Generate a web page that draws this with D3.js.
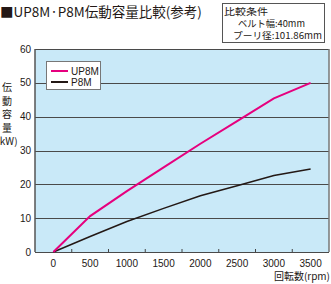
<!DOCTYPE html>
<html>
<head>
<meta charset="utf-8">
<script src="https://cdn.jsdelivr.net/npm/d3@7"></script>
<style>
  body { margin: 0; background: #fff; }
  text { font-family: "Liberation Sans", Arial, sans-serif; }
  .jp { font-family: "Noto Sans CJK JP", sans-serif; }
</style>
</head>
<body>
<div id="chart"></div>
<script>
// data
const rpm = [0, 500, 1000, 1500, 2000, 2500, 3000, 3500];
const up8m = [0, 10.6, 18, 25, 32, 38.7, 45.4, 50];
const p8m = [0, 4.6, 9, 12.9, 16.6, 19.6, 22.6, 24.5];
const yTicks = [0, 10, 20, 30, 40, 50, 60];
const xTicks = [0, 500, 1000, 1500, 2000, 2500, 3000, 3500];
const minorTicks = [250, 750, 1250, 1750, 2250, 2750, 3250];
const seriesNames = ["UP8M", "P8M"];
const colors = ["#e6007e", "#231815"];

const width = 331, height = 284;
const plot = { left: 35, right: 329, top: 49, bottom: 252 };

const svg = d3.select("#chart")
  .append("svg")
  .attr("width", width)
  .attr("height", height);

const x = d3.scaleLinear().domain([-250, 3750]).range([plot.left, plot.right]);
const y = d3.scaleLinear().domain([0, 60]).range([plot.bottom, plot.top]);

// title
svg.append("text")
  .attr("class", "jp")
  .attr("x", 0).attr("y", 17)
  .style("font-size", "13.5px")
  .attr("fill", "#231815")
  .text("■UP8M·P8M伝動容量比較(参考)");

// condition box
svg.append("rect")
  .attr("x", 222.5).attr("y", 3.5)
  .attr("width", 102).attr("height", 39)
  .attr("fill", "#fff").attr("stroke", "#555");
const cond = [
  { t: "比較条件", x: 224, y: 15, w: 44 },
  { t: "ベルト幅:40mm", x: 238, y: 27, w: 67 },
  { t: "プーリ径:101.86mm", x: 233, y: 39, w: 89 }
];
svg.selectAll("text.cond")
  .data(cond)
  .enter()
  .append("text")
  .attr("class", "jp cond")
  .attr("x", d => d.x).attr("y", d => d.y)
  .attr("textLength", d => d.w)
  .attr("lengthAdjust", "spacingAndGlyphs")
  .style("font-size", "9.5px")
  .attr("fill", "#231815")
  .text(d => d.t);

// plot background
svg.append("rect")
  .attr("x", plot.left).attr("y", plot.top)
  .attr("width", plot.right - plot.left)
  .attr("height", plot.bottom - plot.top)
  .attr("fill", "#c9e9f8");

// gridlines
svg.selectAll("line.grid")
  .data(yTicks)
  .enter()
  .append("line")
  .attr("x1", plot.left).attr("x2", plot.right)
  .attr("y1", d => Math.round(y(d)) + 0.5)
  .attr("y2", d => Math.round(y(d)) + 0.5)
  .attr("stroke", "#4a4a4a")
  .attr("stroke-width", 1.2);

// frame sides
svg.append("line")
  .attr("x1", plot.left).attr("x2", plot.left)
  .attr("y1", plot.top).attr("y2", plot.bottom)
  .attr("stroke", "#555").attr("stroke-width", 1.5);
svg.append("line")
  .attr("x1", plot.right).attr("x2", plot.right)
  .attr("y1", plot.top).attr("y2", plot.bottom)
  .attr("stroke", "#777").attr("stroke-width", 1.5);

// minor ticks on bottom axis
svg.selectAll("line.tick")
  .data(minorTicks)
  .enter()
  .append("line")
  .attr("x1", d => x(d)).attr("x2", d => x(d))
  .attr("y1", plot.bottom).attr("y2", plot.bottom - 3)
  .attr("stroke", "#444");

// y tick labels
svg.selectAll("text.ylab")
  .data(yTicks)
  .enter()
  .append("text")
  .attr("x", 31)
  .attr("y", d => y(d) + 3.5)
  .attr("text-anchor", "end")
  .style("font-size", "10px")
  .attr("fill", "#231815")
  .text(d => d);

// x tick labels
svg.selectAll("text.xlab")
  .data(xTicks)
  .enter()
  .append("text")
  .attr("x", d => x(d))
  .attr("y", 267)
  .attr("text-anchor", "middle")
  .style("font-size", "10px")
  .attr("fill", "#231815")
  .text(d => d);

// axis titles
svg.append("text")
  .attr("class", "jp")
  .attr("x", 330).attr("y", 280)
  .attr("text-anchor", "end")
  .style("font-size", "10px")
  .attr("fill", "#231815")
  .text("回転数(rpm)");

const yTitle = ["伝", "動", "容", "量", "(kW)"];
svg.selectAll("text.ytitle")
  .data(yTitle)
  .enter()
  .append("text")
  .attr("class", "jp")
  .attr("x", 7)
  .attr("y", (d, i) => 91 + i * 13.5)
  .attr("text-anchor", "middle")
  .style("font-size", "10px")
  .attr("fill", "#231815")
  .text(d => d);

// series lines
const line = d3.line()
  .x((d, i) => x(rpm[i]))
  .y(d => y(d));

[p8m, up8m].forEach((vals, k) => {
  svg.append("path")
    .datum(vals)
    .attr("fill", "none")
    .attr("stroke", k === 1 ? colors[0] : colors[1])
    .attr("stroke-width", k === 1 ? 2 : 1.5)
    .attr("d", line);
});

// legend
const lg = svg.append("g").attr("transform", "translate(46,61)");
lg.append("rect")
  .attr("x", 0.5).attr("y", 0.5)
  .attr("width", 54).attr("height", 28)
  .attr("fill", "#fff").attr("stroke", "#777");
seriesNames.forEach((name, i) => {
  lg.append("line")
    .attr("x1", 5).attr("x2", 22)
    .attr("y1", 10 + i * 11).attr("y2", 10 + i * 11)
    .attr("stroke", colors[i]).attr("stroke-width", 2);
  lg.append("text")
    .attr("x", 25).attr("y", 13.5 + i * 11)
    .style("font-size", "10px")
    .attr("fill", "#231815")
    .text(name);
});
</script>
</body>
</html>
